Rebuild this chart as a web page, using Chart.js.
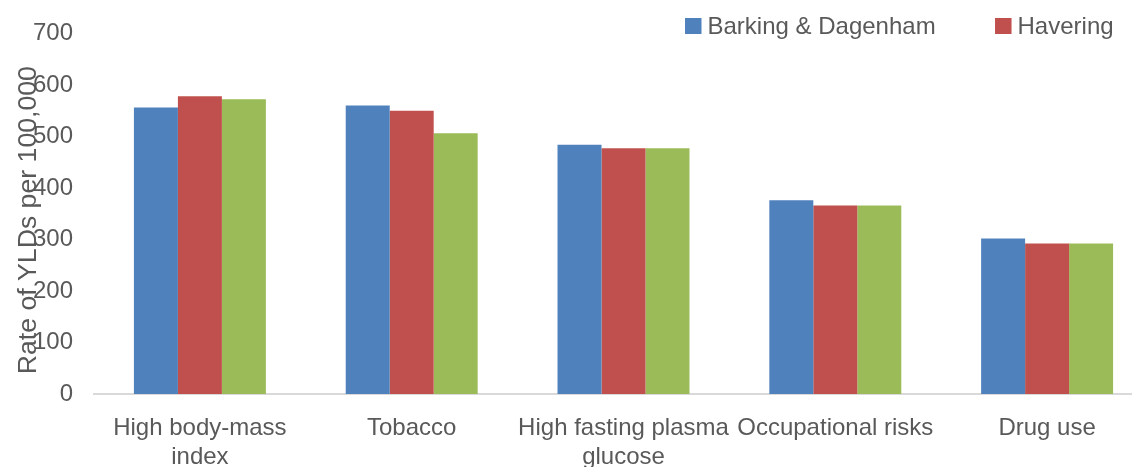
<!DOCTYPE html>
<html>
<head>
<meta charset="utf-8">
<script src="https://cdn.jsdelivr.net/npm/chart.js@4.4.1/dist/chart.umd.min.js"></script>
<style>
  html, body { margin: 0; padding: 0; width: 1132px; height: 467px; overflow: hidden; background: #ffffff; }
  #chart { position: absolute; left: 0; top: -2px; }
</style>
</head>
<body>
<canvas id="chart" width="1153" height="476"></canvas>
<script>
// Risk factors (categories) and YLD rates per 100,000 for each borough
const categories = [
  ["High body-mass", "index"],
  "Tobacco",
  ["High fasting plasma", "glucose"],
  "Occupational risks",
  "Drug use"
];
const seriesNames = ["Barking & Dagenham", "Havering", "Redbridge"];
const barkingDagenham = [556, 560, 484, 376, 302];
const havering        = [578, 550, 477, 366, 292];
const redbridge       = [572, 506, 477, 366, 292];

// Value axis range and tick spacing
const yMin = 0;
const yMax = 700;
const yStep = 100;
const yTitle = "Rate of YLDs per 100,000";

const textGrey = "#595959";
const fontFamily = '"Liberation Sans", Arial, Helvetica, sans-serif';
Chart.defaults.font.family = fontFamily;
Chart.defaults.color = textGrey;

// Rotated value-axis title, laid over the tick column
const valueAxisTitle = {
  id: "valueAxisTitle",
  afterDraw(chart) {
    const { ctx, chartArea } = chart;
    ctx.save();
    ctx.font = "26.67px " + fontFamily;
    ctx.fillStyle = textGrey;
    ctx.textAlign = "center";
    ctx.textBaseline = "alphabetic";
    ctx.translate(chartArea.left - 58, (chartArea.top + chartArea.bottom) / 2 + 6.5);
    ctx.rotate(-Math.PI / 2);
    ctx.fillText(yTitle, 0, 0);
    ctx.restore();
  }
};

// Single-row series key: square swatch + name, one entry per dataset
const seriesKey = {
  id: "seriesKey",
  afterDraw(chart, args, opts) {
    const { ctx } = chart;
    ctx.save();
    ctx.font = opts.fontSize + "px " + fontFamily;
    ctx.textAlign = "left";
    ctx.textBaseline = "alphabetic";
    let x = opts.x;
    chart.data.datasets.forEach((ds) => {
      ctx.fillStyle = ds.backgroundColor;
      ctx.fillRect(x, opts.y, opts.boxWidth, opts.boxHeight);
      ctx.fillStyle = textGrey;
      const tx = x + opts.textOffset;
      ctx.fillText(ds.label, tx, opts.baseline);
      x = tx + ctx.measureText(ds.label).width + opts.spacing;
    });
    ctx.restore();
  }
};

new Chart(document.getElementById("chart"), {
  type: "bar",
  data: {
    labels: categories,
    datasets: [
      { label: seriesNames[0], data: barkingDagenham, backgroundColor: "#4F81BD" },
      { label: seriesNames[1], data: havering,        backgroundColor: "#C0504D" },
      { label: seriesNames[2], data: redbridge,       backgroundColor: "#9BBB59" }
    ]
  },
  options: {
    responsive: false,
    animation: false,
    layout: { padding: 0 },
    datasets: {
      bar: { categoryPercentage: 0.623, barPercentage: 1.0, borderWidth: 0 }
    },
    plugins: {
      title: { display: false },
      tooltip: { enabled: false },
      legend: { display: false },
      seriesKey: {
        x: 685, y: 20, boxWidth: 16.5, boxHeight: 16,
        textOffset: 22.5, baseline: 36, spacing: 59.4, fontSize: 24
      }
    },
    scales: {
      x: {
        grid: { display: false, drawTicks: false },
        border: { display: true, color: "#D9D9D9", width: 2 },
        ticks: {
          padding: 20,
          autoSkip: false,
          maxRotation: 0,
          minRotation: 0,
          color: textGrey,
          font: { size: 24, family: fontFamily, lineHeight: 1.2 }
        },
        afterFit(scale) { scale.height = 80; }
      },
      y: {
        min: yMin,
        max: yMax,
        grid: { display: false, drawTicks: false },
        border: { display: false },
        ticks: {
          stepSize: yStep,
          padding: 21,
          color: textGrey,
          font: { size: 24, family: fontFamily }
        },
        afterFit(scale) { scale.width = 94; }
      }
    }
  },
  plugins: [valueAxisTitle, seriesKey]
});
</script>
</body>
</html>
